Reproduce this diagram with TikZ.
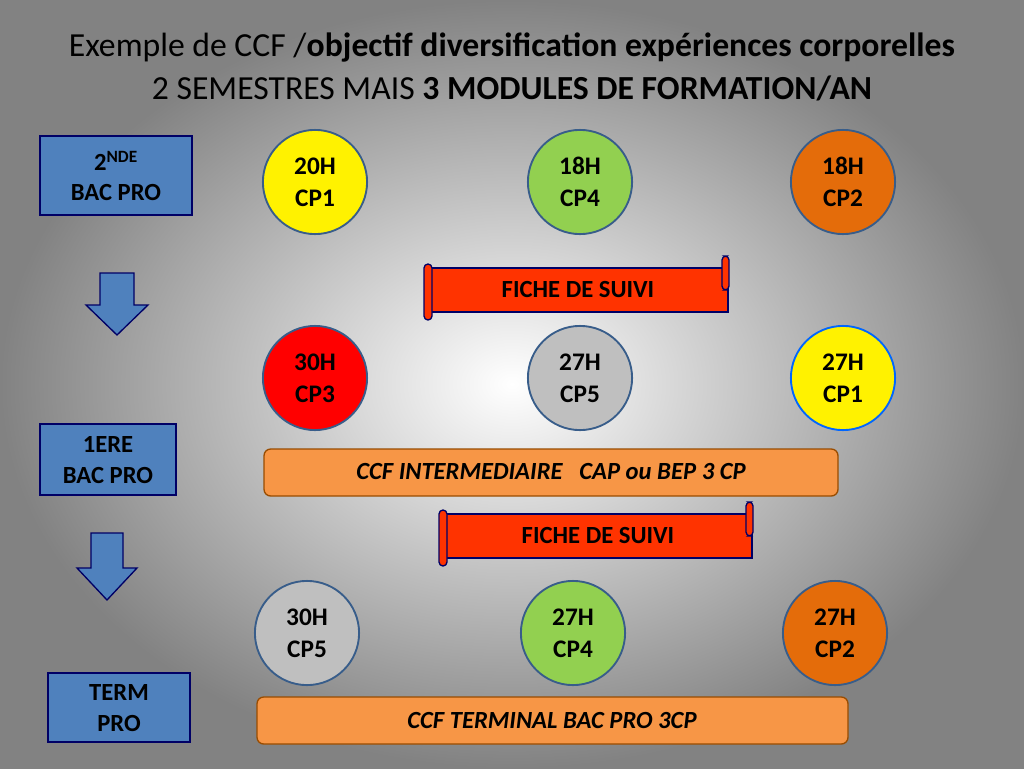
\documentclass[tikz,border=0pt]{standalone}
\usepackage{fontspec}
\setmainfont{Carlito}
\begin{document}
\begin{tikzpicture}[x=0.0264cm,y=-0.0264cm,
 lvl/.style={draw=blue!40!black,fill=lblue,line width=1pt},
 circ/.style={circle,draw=cbord,line width=1.4pt,minimum size=2.75cm,font=\bfseries\fontsize{19}{24}\selectfont,align=center},
 bar/.style={draw=orange!60!black,fill=obar,rounded corners=5pt,line width=1pt},
 scr/.style={draw=blue!40!black,fill=sred,line width=1pt},
 lbl/.style={font=\bfseries\fontsize{18.5}{23}\selectfont,align=center}]
\definecolor{bge}{RGB}{130,130,130}
\definecolor{lblue}{RGB}{79,129,189}
\definecolor{cbord}{RGB}{56,93,138}
\definecolor{cgreen}{RGB}{146,208,80}
\definecolor{corange}{RGB}{228,108,10}
\definecolor{obar}{RGB}{247,150,70}
\definecolor{sred}{RGB}{255,51,0}
\definecolor{cgray}{RGB}{191,191,191}
\useasboundingbox (0,0) rectangle (1024,768);
\shade[inner color=white,outer color=bge] (0,0) rectangle (1024,768);
\node (t1) at (512,47) {\fontsize{25.3}{30}\selectfont Exemple de CCF /\textbf{objectif diversification expériences corporelles}};
\node (t2) at (512,88) {\fontsize{25.3}{30}\selectfont 2 SEMESTRES MAIS \textbf{3 MODULES DE FORMATION/AN}};
\draw[lvl] (40,136) rectangle (192,215);
\node[lbl] (b1) at (116,176) {2\textsuperscript{NDE}\\BAC PRO};
\draw[lvl] (40,424) rectangle (176,495);
\node[lbl] (b2) at (108,460) {1ERE\\BAC PRO};
\draw[lvl] (48,673) rectangle (190,742);
\node[lbl] (b3) at (119,708) {TERM\\PRO};
\draw[lvl] (100,273) -- (134,273) -- (134,305) -- (148,305) -- (117,335) -- (86,305) -- (100,305) -- cycle;
\draw[lvl] (91,533) -- (123,533) -- (123,568) -- (137,568) -- (107,600) -- (77,568) -- (91,568) -- cycle;
\node[circ,fill=yellow] (c11) at (315,182) {20H\\CP1};
\node[circ,fill=cgreen] (c12) at (580,182) {18H\\CP4};
\node[circ,fill=corange] (c13) at (843,182) {18H\\CP2};
\node[circ,fill=red] (c21) at (315,378) {30H\\CP3};
\node[circ,fill=cgray] (c22) at (580,378) {27H\\CP5};
\node[circ,fill=yellow,draw=blue!60!cyan] (c23) at (843,378) {27H\\CP1};
\node[circ,fill=cgray] (c31) at (307,633) {30H\\CP5};
\node[circ,fill=cgreen] (c32) at (573,633) {27H\\CP4};
\node[circ,fill=corange] (c33) at (835,633) {27H\\CP2};
\draw[scr] (430,268) rectangle (728,312);
\draw[scr,rounded corners=3pt] (722,256) rectangle (729,290);
\draw[scr,rounded corners=3pt] (424,264) rectangle (432,320);
\node[lbl] (s1) at (578,290) {FICHE DE SUIVI};
\draw[scr] (445,514) rectangle (752,558);
\draw[scr,rounded corners=3pt] (746,502) rectangle (753,536);
\draw[scr,rounded corners=3pt] (439,510) rectangle (447,566);
\node[lbl] (s2) at (598,536) {FICHE DE SUIVI};
\draw[bar] (264,449) rectangle (838,496);
\node[font=\bfseries\itshape\fontsize{18.5}{23}\selectfont] (o1) at (551,472) {CCF INTERMEDIAIRE\ \ \ CAP ou BEP 3 CP};
\draw[bar] (257,697) rectangle (848,744);
\node[font=\bfseries\itshape\fontsize{18.5}{23}\selectfont] (o2) at (552,720) {CCF TERMINAL BAC PRO 3CP};
\end{tikzpicture}
\end{document}
